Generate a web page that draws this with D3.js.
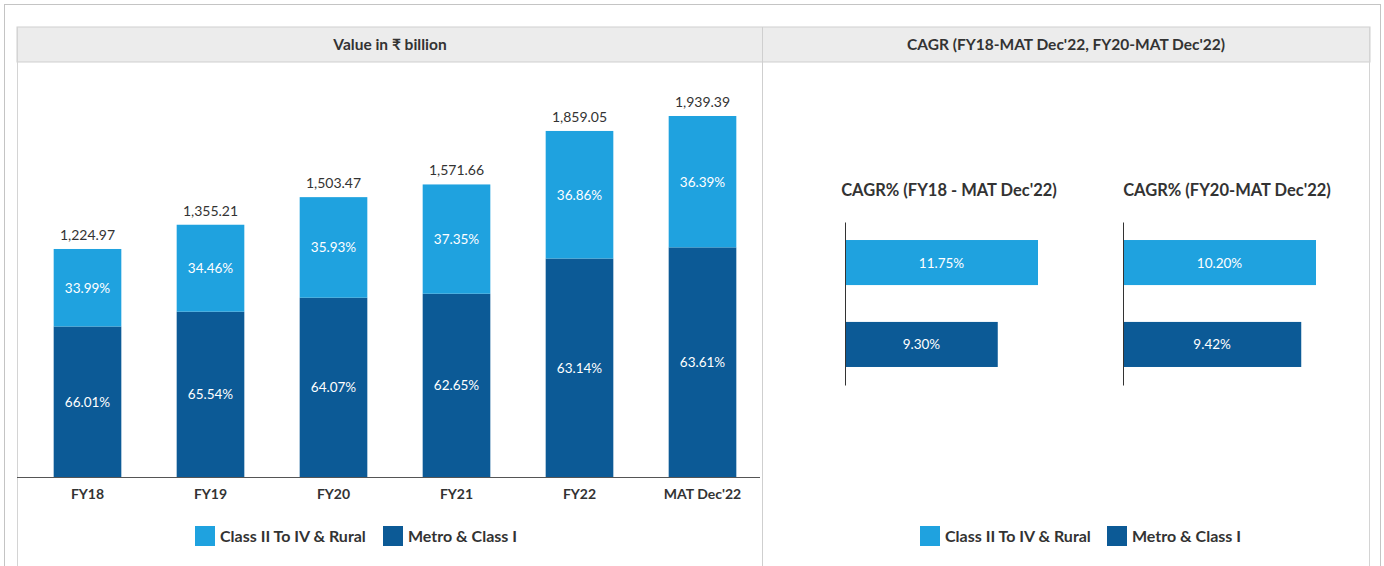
<!DOCTYPE html>
<html>
<head>
<meta charset="utf-8">
<script src="https://cdn.jsdelivr.net/npm/d3@7"></script>
<style>
  body { margin: 0; background: #fff; }
  svg { font-family: Lato, "Open Sans", sans-serif; }
</style>
</head>
<body>
<div id="chart"></div>
<script>
const years = ["FY18", "FY19", "FY20", "FY21", "FY22", "MAT Dec'22"];
const totals = [1224.97, 1355.21, 1503.47, 1571.66, 1859.05, 1939.39];
const ruralPct = [33.99, 34.46, 35.93, 37.35, 36.86, 36.39];
const metroPct = [66.01, 65.54, 64.07, 62.65, 63.14, 63.61];

const seriesNames = ["Class II To IV & Rural", "Metro & Class I"];
const cagrTitles = ["CAGR% (FY18 - MAT Dec'22)", "CAGR% (FY20-MAT Dec'22)"];
const cagrFY18 = [11.75, 9.30];
const cagrFY20 = [10.20, 9.42];

const light = "#1fa2df", dark = "#0c5a96";
const W = 1384, H = 566;

const svg = d3.select("#chart").append("svg")
  .attr("width", W).attr("height", H);

// frame and header band
svg.append("rect").attr("x", 4.5).attr("y", 4.5).attr("width", 1376).attr("height", 570)
  .attr("fill", "none").attr("stroke", "#c4c4c4");
svg.append("rect").attr("x", 17).attr("y", 27).attr("width", 1353).attr("height", 35)
  .attr("fill", "#ececec").attr("stroke", "#cfcfcf");
svg.append("line").attr("x1", 17.5).attr("x2", 17.5).attr("y1", 27).attr("y2", H)
  .attr("stroke", "#d4d4d4");
svg.append("line").attr("x1", 762.5).attr("x2", 762.5).attr("y1", 27).attr("y2", H)
  .attr("stroke", "#cfcfcf");
svg.append("line").attr("x1", 1369.5).attr("x2", 1369.5).attr("y1", 27).attr("y2", H)
  .attr("stroke", "#d4d4d4");

svg.append("text").attr("x", 390).attr("y", 50).attr("text-anchor", "middle")
  .attr("font-size", 15.5).attr("font-weight", "bold").attr("fill", "#333")
  .text("Value in ₹ billion");
svg.append("text").attr("x", 1066).attr("y", 50).attr("text-anchor", "middle")
  .attr("font-size", 15.5).attr("font-weight", "bold").attr("fill", "#333")
  .text("CAGR (FY18-MAT Dec'22, FY20-MAT Dec'22)");

// stacked bars
const x = d3.scaleBand().domain(years).range([26, 764])
  .paddingInner(0.45).paddingOuter(0.225);
const y = d3.scaleLinear().domain([0, d3.max(totals)]).range([477, 116]);

const rows = years.map((yr, i) => ({
  year: yr, total: totals[i],
  metro: totals[i] * metroPct[i] / 100, rural: totals[i] * ruralPct[i] / 100,
  metroPct: metroPct[i], ruralPct: ruralPct[i]
}));

const bars = svg.append("g").selectAll("g").data(rows).join("g");
bars.append("rect")
  .attr("x", d => x(d.year)).attr("width", x.bandwidth())
  .attr("y", d => y(d.metro)).attr("height", d => y(0) - y(d.metro))
  .attr("fill", dark);
bars.append("rect")
  .attr("x", d => x(d.year)).attr("width", x.bandwidth())
  .attr("y", d => y(d.total)).attr("height", d => y(d.metro) - y(d.total))
  .attr("fill", light);
bars.append("text")
  .attr("x", d => x(d.year) + x.bandwidth() / 2)
  .attr("y", d => (y(0) + y(d.metro)) / 2 + 5)
  .attr("text-anchor", "middle").attr("font-size", 13.5).attr("fill", "#fff")
  .text(d => d.metroPct.toFixed(2) + "%");
bars.append("text")
  .attr("x", d => x(d.year) + x.bandwidth() / 2)
  .attr("y", d => (y(d.metro) + y(d.total)) / 2 + 5)
  .attr("text-anchor", "middle").attr("font-size", 13.5).attr("fill", "#fff")
  .text(d => d.ruralPct.toFixed(2) + "%");
bars.append("text")
  .attr("x", d => x(d.year) + x.bandwidth() / 2)
  .attr("y", d => y(d.total) - 9)
  .attr("text-anchor", "middle").attr("font-size", 14).attr("fill", "#333")
  .text(d => d3.format(",.2f")(d.total));

const xAxis = svg.append("g").attr("transform", "translate(0,477)")
  .call(d3.axisBottom(x).tickSize(0).tickPadding(12));
xAxis.select(".domain").attr("d", "M17,0.5H760").attr("stroke", "#555");
xAxis.selectAll("text").attr("font-size", 14).attr("font-weight", "bold")
  .attr("fill", "#333").attr("font-family", "Lato, sans-serif");

// legends
function legend(x0, gap) {
  const g = svg.append("g").attr("transform", `translate(${x0},526)`);
  const items = g.selectAll("g").data(seriesNames).join("g")
    .attr("transform", (d, i) => `translate(${i * gap},0)`);
  items.append("rect").attr("width", 20).attr("height", 20)
    .attr("fill", (d, i) => i === 0 ? light : dark);
  items.append("text").attr("x", 25).attr("y", 16).attr("font-size", 16)
    .attr("font-weight", "bold").attr("fill", "#333").text(d => d);
}
legend(195, 188);
legend(920, 187);

// CAGR horizontal bars
function cagrChart(x0, title, values) {
  const g = svg.append("g").attr("transform", `translate(${x0},0)`);
  const xs = d3.scaleLinear().domain([0, d3.max(values)]).range([0, 193]);
  const ys = d3.scaleBand().domain(seriesNames).range([222, 385])
    .paddingInner(0.45).paddingOuter(0.22);
  g.append("text").attr("x", 104).attr("y", 196).attr("text-anchor", "middle")
    .attr("font-size", 16.5).attr("font-weight", "bold").attr("fill", "#333").text(title);
  g.selectAll("rect").data(values).join("rect")
    .attr("x", 0).attr("y", (d, i) => ys(seriesNames[i]))
    .attr("width", d => xs(d)).attr("height", ys.bandwidth())
    .attr("fill", (d, i) => i === 0 ? light : dark);
  g.selectAll(".lbl").data(values).join("text").attr("class", "lbl")
    .attr("x", d => xs(d) / 2).attr("y", (d, i) => ys(seriesNames[i]) + ys.bandwidth() / 2 + 5)
    .attr("text-anchor", "middle").attr("font-size", 13.5).attr("fill", "#fff")
    .text(d => d.toFixed(2) + "%");
  g.append("g").call(d3.axisLeft(ys).tickSize(0).tickFormat(""))
    .select(".domain").attr("stroke", "#333");
}
cagrChart(845, cagrTitles[0], cagrFY18);
cagrChart(1123, cagrTitles[1], cagrFY20);
</script>
</body>
</html>
